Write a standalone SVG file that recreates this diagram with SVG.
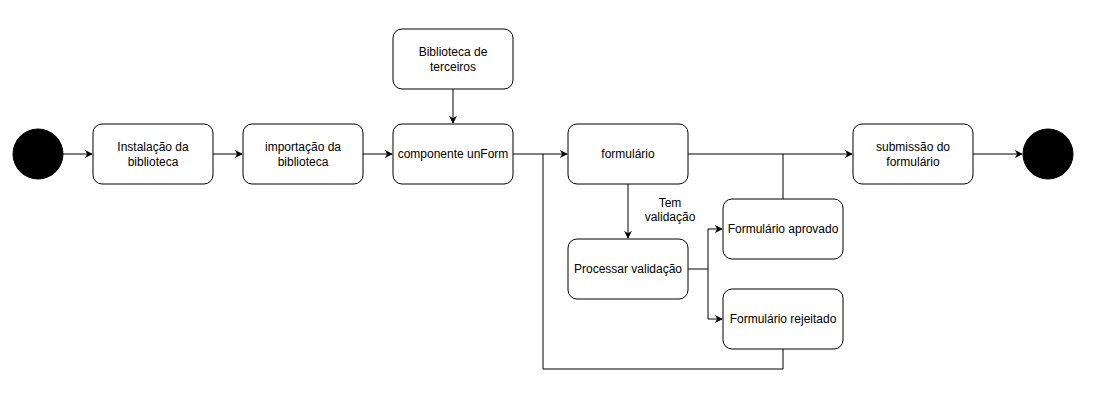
<svg xmlns="http://www.w3.org/2000/svg" width="1093" height="411" viewBox="0 0 1093 411">
<defs>
<marker id="arr" viewBox="0 0 10 10" refX="9" refY="5" markerWidth="8" markerHeight="8" markerUnits="userSpaceOnUse" orient="auto">
<path d="M0,0 L10,5 L0,10 L3,5 Z" fill="#000"/>
</marker>
<style>
.box{fill:#fff;stroke:#000;stroke-width:1}
.dot{fill:#000;stroke:#000}
.t{font-family:"Liberation Sans",Arial,sans-serif;font-size:12px;fill:#000;text-anchor:middle}
.c{fill:none;stroke:#000;stroke-width:1}
</style>
</defs>
<rect width="1093" height="411" fill="#fff"/>
<g id="connectors">
<path class="c" d="M63,154 H92" marker-end="url(#arr)"/>
<path class="c" d="M213,154 H242" marker-end="url(#arr)"/>
<path class="c" d="M363,154 H392" marker-end="url(#arr)"/>
<path class="c" d="M453,89 V123" marker-end="url(#arr)"/>
<path class="c" d="M513,154 H567" marker-end="url(#arr)"/>
<path class="c" d="M688,154 H852" marker-end="url(#arr)"/>
<path class="c" d="M973,154 H1022" marker-end="url(#arr)"/>
<path class="c" d="M628,184 V238" marker-end="url(#arr)"/>
<path class="c" d="M688,269 H708 V229 H722" marker-end="url(#arr)"/>
<path class="c" d="M708,269 V319 H722" marker-end="url(#arr)"/>
<path class="c" d="M783,199 V154"/>
<path class="c" d="M783,349 V369 H543 V154"/>
<text class="t" x="670" y="207">Tem</text>
<text class="t" x="670" y="221">validação</text>
</g>
<g id="start"><circle class="dot" cx="38" cy="154" r="25"/></g>
<g id="instalacao"><rect class="box" x="93" y="124" width="120" height="60" rx="9"/><text class="t" x="153" y="151">Instalação da</text><text class="t" x="153" y="166">biblioteca</text></g>
<g id="importacao"><rect class="box" x="243" y="124" width="120" height="60" rx="9"/><text class="t" x="303" y="151">importação da</text><text class="t" x="303" y="166">biblioteca</text></g>
<g id="terceiros"><rect class="box" x="393" y="29" width="120" height="60" rx="9"/><text class="t" x="453" y="56">Biblioteca de</text><text class="t" x="453" y="71">terceiros</text></g>
<g id="unform"><rect class="box" x="393" y="124" width="120" height="60" rx="9"/><text class="t" x="453" y="158">componente unForm</text></g>
<g id="formulario"><rect class="box" x="568" y="124" width="120" height="60" rx="9"/><text class="t" x="628" y="158">formulário</text></g>
<g id="processar"><rect class="box" x="568" y="239" width="120" height="60" rx="9"/><text class="t" x="628" y="273">Processar validação</text></g>
<g id="aprovado"><rect class="box" x="723" y="199" width="120" height="60" rx="9"/><text class="t" x="783" y="233">Formulário aprovado</text></g>
<g id="rejeitado"><rect class="box" x="723" y="289" width="120" height="60" rx="9"/><text class="t" x="783" y="323">Formulário rejeitado</text></g>
<g id="submissao"><rect class="box" x="853" y="124" width="120" height="60" rx="9"/><text class="t" x="913" y="151">submissão do</text><text class="t" x="913" y="166">formulário</text></g>
<g id="end"><circle class="dot" cx="1048" cy="154" r="25"/></g>
</svg>
